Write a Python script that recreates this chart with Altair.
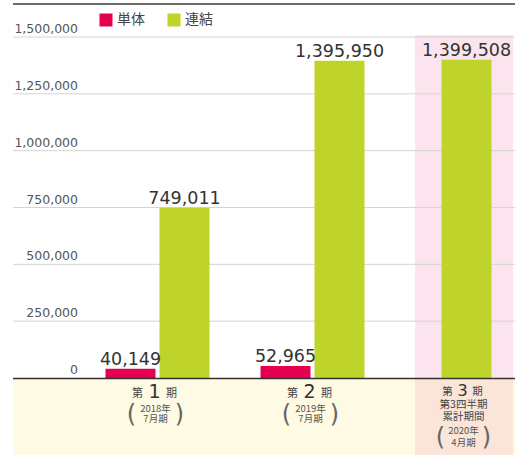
import altair as alt
import pandas as pd

# ---- data ----
periods = ["1", "2", "3"]
tandoku = [40149, 52965, None]          # 単体
renketsu = [749011, 1395950, 1399508]   # 連結
series_names = ["単体", "連結"]
series_colors = ["#e4004f", "#bfd42b"]
y_ticks = [0, 250000, 500000, 750000, 1000000, 1250000, 1500000]
paren_years = ["2018年", "2019年", "2020年"]
paren_months = ["7月期", "7月期", "4月期"]
extra_lines = ["第3四半期", "累計期間"]

JP = "Noto Sans CJK JP"
NUM = "DejaVu Sans"

rows = []
for p, t, r in zip(periods, tandoku, renketsu):
    if t is not None:
        rows.append(dict(period=p, series="単体", value=t))
    rows.append(dict(period=p, series="連結", value=r))
bars_df = pd.DataFrame(rows)
bars_df["label"] = bars_df["value"].map(lambda v: f"{v:,}")

ticks_df = pd.DataFrame({"tick": y_ticks})
ticks_df["label"] = ticks_df["tick"].map(lambda v: f"{v:,}")

per_df = pd.DataFrame({"period": periods, "year": paren_years, "month": paren_months})
extra_df = pd.DataFrame({"period": ["3"], "l1": [extra_lines[0]], "l2": [extra_lines[1]]})
one = pd.DataFrame({"a": [0]})

# ---- scales ----
xs = alt.Scale(domain=periods, range=[80, 545], paddingInner=0, paddingOuter=0)
ys = alt.Scale(domain=[0, 1500000], range=[378, 37], nice=False, zero=True)
X = alt.X("period:N", scale=xs, axis=None)
Y = alt.Y("value:Q", scale=ys, axis=None)
C = alt.Color(
    "series:N",
    scale=alt.Scale(domain=series_names, range=series_colors),
    legend=alt.Legend(
        orient="none", legendX=99, legendY=13, direction="horizontal",
        symbolType="square", symbolSize=169, symbolStrokeWidth=0, symbolOpacity=1,
        labelFontSize=14, labelFont=JP, labelColor="#444", labelOffset=4,
        columnPadding=22, title=None, padding=0,
    ),
)

# ---- backgrounds ----
cream = alt.Chart(one).mark_rect(color="#fefae3").encode(
    x=alt.value(13), x2=alt.value(515), y=alt.value(379), y2=alt.value(455))
p3 = alt.Chart(per_df).transform_filter("datum.period == '3'")
pink = p3.mark_bar(width=98, xOffset=-3.5, color="#fce4ee").encode(
    x=X, y=alt.value(35), y2=alt.value(378))
peach = p3.mark_bar(width=98, xOffset=-3.5, color="#fbe4d8").encode(
    x=X, y=alt.value(379), y2=alt.value(455))

grid = alt.Chart(ticks_df).transform_filter("datum.tick > 0").mark_rule(
    color="#d4d4d4", strokeWidth=1).encode(
    y=alt.Y("tick:Q", scale=ys, axis=None), x=alt.value(13), x2=alt.value(515))
ylabels = alt.Chart(ticks_df).mark_text(
    align="right", baseline="alphabetic", dy=-4, fontSize=12.5, font=NUM, color="#555").encode(
    y=alt.Y("tick:Q", scale=ys, axis=None), x=alt.value(78), text="label:N")

topline = alt.Chart(one).mark_rule(color="#6b6b6b", strokeWidth=2).encode(
    x=alt.value(13), x2=alt.value(515), y=alt.value(4))
baseline = alt.Chart(one).mark_rule(color="#333", strokeWidth=1.5).encode(
    x=alt.value(13), x2=alt.value(515), y=alt.value(378.5))

# ---- bars ----
b = alt.Chart(bars_df)
red = b.transform_filter("datum.series == '単体'")
g12 = b.transform_filter("datum.series == '連結' && datum.period != '3'")
g3 = b.transform_filter("datum.series == '連結' && datum.period == '3'")

bars = [
    red.mark_bar(width=50, xOffset=-27).encode(x=X, y=Y, color=C),
    g12.mark_bar(width=50, xOffset=27).encode(x=X, y=Y, color=C),
    g3.mark_bar(width=50, xOffset=-1).encode(x=X, y=Y, color=C),
]
tk = dict(baseline="alphabetic", dy=-4, fontSize=17.5, font=NUM, color="#333")
vlabels = [
    red.mark_text(dx=-27, **tk).encode(x=X, y=Y, text="label:N"),
    g12.mark_text(dx=27, **tk).encode(x=X, y=Y, text="label:N"),
    g3.mark_text(dx=-1, **tk).encode(x=X, y=Y, text="label:N"),
]

# ---- category labels ----
pc = alt.Chart(per_df)
p12 = pc.transform_filter("datum.period != '3'")
pc3 = pc.transform_filter("datum.period == '3'")
sm = dict(fontSize=9.5, font=JP, color="#555", baseline="alphabetic")
par = dict(fontSize=24, font=NUM, color="#666", baseline="middle")
cat = [
    p12.mark_text(fontSize=11, font=JP, color="#444", dx=-20, baseline="alphabetic").encode(
        x=X, y=alt.value(397), text=alt.value("第")),
    p12.mark_text(fontSize=19, font=NUM, color="#333", dx=-3, baseline="alphabetic").encode(
        x=X, y=alt.value(398), text="period:N"),
    p12.mark_text(fontSize=11, font=JP, color="#444", dx=14, baseline="alphabetic").encode(
        x=X, y=alt.value(397), text=alt.value("期")),
    pc3.mark_text(fontSize=10.5, font=JP, color="#444", dx=-20, baseline="alphabetic").encode(
        x=X, y=alt.value(395), text=alt.value("第")),
    pc3.mark_text(fontSize=16, font=NUM, color="#333", dx=-5, baseline="alphabetic").encode(
        x=X, y=alt.value(396), text="period:N"),
    pc3.mark_text(fontSize=10.5, font=JP, color="#444", dx=10, baseline="alphabetic").encode(
        x=X, y=alt.value(395), text=alt.value("期")),
    p12.mark_text(dx=-2, **sm).encode(x=X, y=alt.value(412), text="year:N"),
    p12.mark_text(dx=-2, **sm).encode(x=X, y=alt.value(422), text="month:N"),
    p12.mark_text(dx=-26, **par).encode(x=X, y=alt.value(415), text=alt.value("(")),
    p12.mark_text(dx=22, **par).encode(x=X, y=alt.value(415), text=alt.value(")")),
    pc3.mark_text(dx=-4, **sm).encode(x=X, y=alt.value(434), text="year:N"),
    pc3.mark_text(dx=-4, **sm).encode(x=X, y=alt.value(446), text="month:N"),
    pc3.mark_text(dx=-27, **par).encode(x=X, y=alt.value(438), text=alt.value("(")),
    pc3.mark_text(dx=19, **par).encode(x=X, y=alt.value(438), text=alt.value(")")),
]
ec = alt.Chart(extra_df)
ex = dict(fontSize=10.5, font=JP, color="#444", baseline="alphabetic", dx=-4)
cat += [
    ec.mark_text(**ex).encode(x=X, y=alt.value(408), text="l1:N"),
    ec.mark_text(**ex).encode(x=X, y=alt.value(420), text="l2:N"),
]

chart = alt.layer(
    cream, pink, peach, grid, ylabels, topline, *bars, baseline, *vlabels, *cat
).properties(
    width=515, height=455, autosize=alt.AutoSizeParams(type="none"), padding=0,
    background="white",
).configure_view(stroke=None)

chart.save("out.html", embed_options={"renderer": "svg", "actions": False})
